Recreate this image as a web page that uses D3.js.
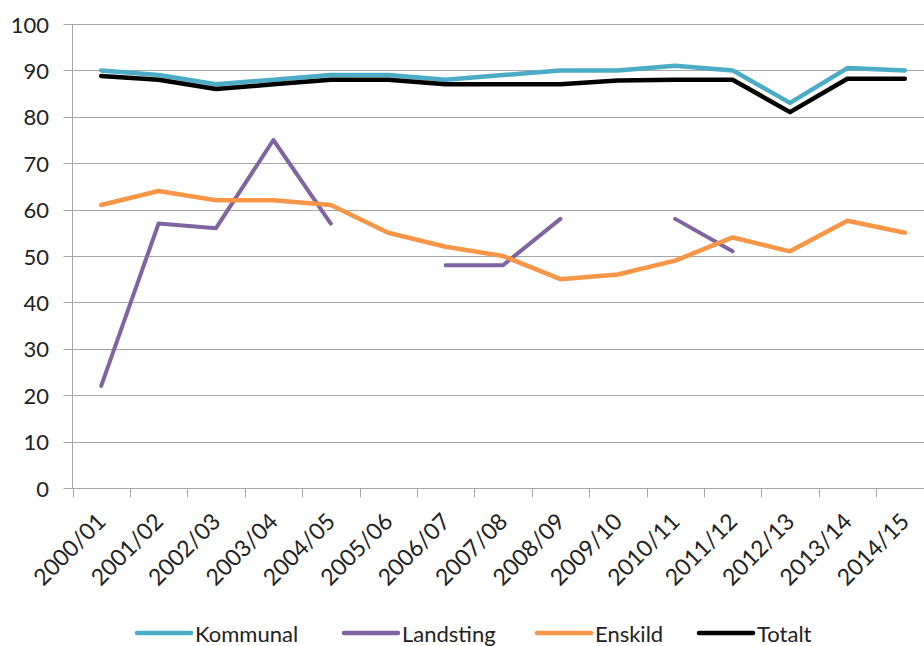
<!DOCTYPE html>
<html>
<head>
<meta charset="utf-8">
<script src="https://cdnjs.cloudflare.com/ajax/libs/d3/7.8.5/d3.min.js"></script>
<style>
  html, body { margin: 0; padding: 0; background: #fff; }
  svg { display: block; }
  text { font-family: Lato, "Open Sans", sans-serif; fill: #222; }
</style>
</head>
<body>
<svg id="chart" width="924" height="646"></svg>
<script>
const categories = ["2000/01","2001/02","2002/03","2003/04","2004/05","2005/06","2006/07","2007/08","2008/09","2009/10","2010/11","2011/12","2012/13","2013/14","2014/15"];
const kommunal  = [90, 89, 87, 88, 89, 89, 88, 89, 90, 90, 91, 90, 83, 90.5, 90];
const landsting = [22, 57, 56, 75, 57, null, 48, 48, 58, null, 58, 51, null, null, null];
const enskild   = [61, 64, 62, 62, 61, 55, 52, 50, 45, 46, 49, 54, 51, 57.6, 55];
const totalt    = [88.8, 88, 86, 87, 88, 88, 87, 87, 87, 87.8, 88, 88, 81, 88.2, 88.2];
const yTicks = [0, 10, 20, 30, 40, 50, 60, 70, 80, 90, 100];
const seriesNames = ["Kommunal", "Landsting", "Enskild", "Totalt"];
const seriesColors = ["#4BACC6", "#8064A2", "#F79646", "#000000"];
const seriesWidths = [4.5, 4, 4.5, 4.5];
const seriesData = [kommunal, landsting, enskild, totalt];

(function () {
const svg = d3.select("#chart");
const pLeft = 72.5, pRight = 933.5, pTop = 24, pBottom = 488;

const x = d3.scaleBand().domain(categories).range([pLeft, pRight]).paddingInner(0).paddingOuter(0);
const y = d3.scaleLinear().domain([0, 100]).range([pBottom, pTop]);
const cx = c => x(c) + x.bandwidth() / 2;

// gridlines
svg.append("g").selectAll("line").data(yTicks).join("line")
  .attr("x1", pLeft - 9).attr("x2", pRight)
  .attr("y1", d => Math.round(y(d)) + 0.5).attr("y2", d => Math.round(y(d)) + 0.5)
  .attr("stroke", "#A6A6A6").attr("stroke-width", 1);

// y axis line
svg.append("line")
  .attr("x1", pLeft).attr("x2", pLeft)
  .attr("y1", Math.round(y(100)) + 0.5).attr("y2", Math.round(y(0)) + 0.5)
  .attr("stroke", "#A6A6A6").attr("stroke-width", 1);

// y labels
svg.append("g").selectAll("text").data(yTicks).join("text")
  .attr("x", 49).attr("y", d => y(d))
  .attr("text-anchor", "end").attr("dominant-baseline", "central")
  .style("font-size", "22px")
  .text(d => d);

// x ticks at band boundaries
const boundaries = categories.map(c => x(c)).concat([pRight]);
svg.append("g").selectAll("line").data(boundaries).join("line")
  .attr("x1", d => Math.round(d) + 0.5).attr("x2", d => Math.round(d) + 0.5)
  .attr("y1", Math.round(y(0)) + 0.5).attr("y2", Math.round(y(0)) + 9.5)
  .attr("stroke", "#A6A6A6").attr("stroke-width", 1);

// x labels
svg.append("g").selectAll("text").data(categories).join("text")
  .attr("transform", c => `translate(${cx(c) + 6},${pBottom + 35}) rotate(-45)`)
  .attr("text-anchor", "end")
  .style("font-size", "23px")
  .text(c => c);

// lines
const line = d3.line()
  .defined(d => d.v != null)
  .x(d => cx(d.c)).y(d => y(d.v));

seriesData.forEach((vals, i) => {
  const pts = categories.map((c, j) => ({ c, v: vals[j] }));
  svg.append("path")
    .datum(pts)
    .attr("d", line)
    .attr("fill", "none")
    .attr("stroke", seriesColors[i])
    .attr("stroke-width", seriesWidths[i])
    .attr("stroke-linejoin", "round")
    .attr("stroke-linecap", "round");
});

// legend
const lg = svg.append("g");
const legendStarts = [137, 344, 537, 699];
const ly = 633;
seriesNames.forEach((name, i) => {
  const lx = legendStarts[i];
  lg.append("line")
    .attr("x1", lx).attr("x2", lx + 54).attr("y1", ly).attr("y2", ly)
    .attr("stroke", seriesColors[i]).attr("stroke-width", 4.5)
    .attr("stroke-linecap", "round");
  lg.append("text")
    .attr("x", lx + 58).attr("y", ly).attr("dominant-baseline", "central")
    .style("font-size", "22px")
    .text(name);
});
})();
</script>
</body>
</html>
